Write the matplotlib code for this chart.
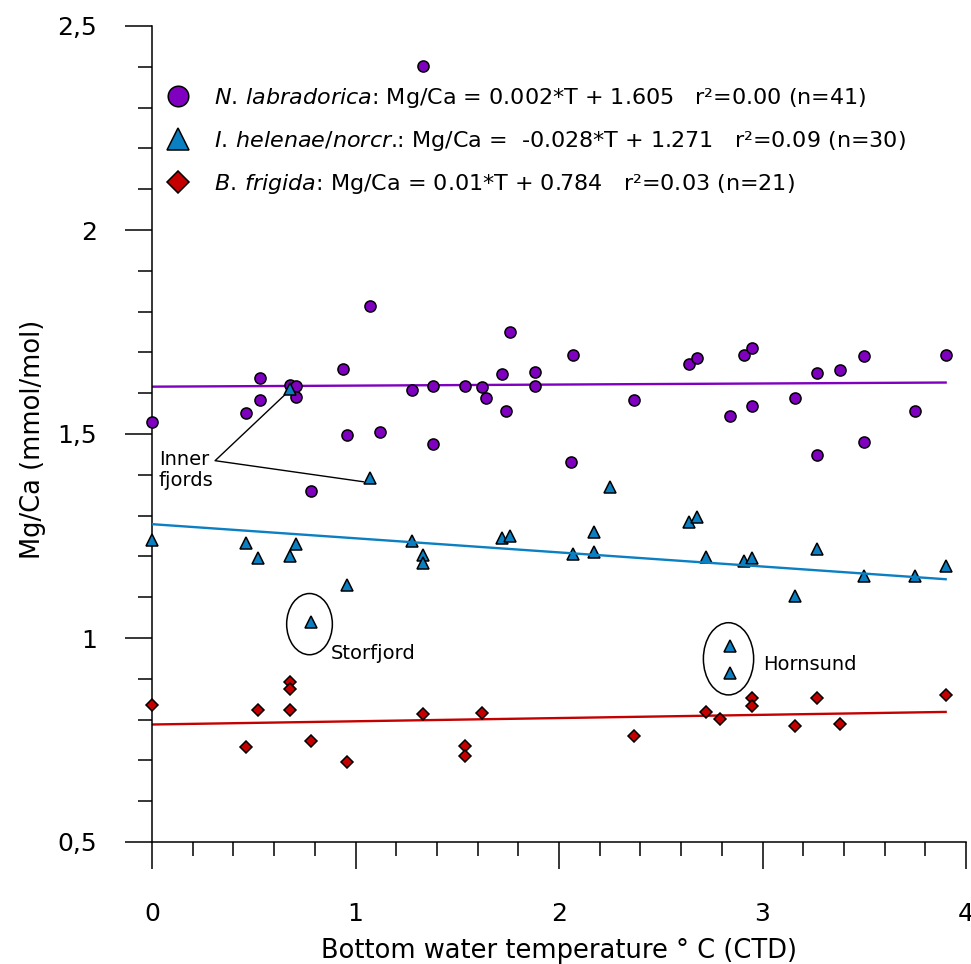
import numpy as np
import matplotlib.pyplot as plt
from matplotlib.patches import Ellipse
from matplotlib.ticker import MultipleLocator

# N. labradorica (circles)
nlab_t = [0.00, 0.46, 0.53, 0.53, 0.68, 0.71, 0.71, 0.78, 0.94, 0.96,
          1.07, 1.12, 1.28, 1.33, 1.38, 1.38, 1.54, 1.62, 1.64, 1.72,
          1.76, 1.74, 1.88, 1.88, 2.07, 2.06, 2.37, 2.64, 2.68, 2.84,
          2.91, 2.95, 2.95, 3.16, 3.27, 3.27, 3.38, 3.50, 3.50, 3.75,
          3.90]
nlab_mgca = [1.530, 1.551, 1.638, 1.583, 1.620, 1.618, 1.591, 1.360, 1.659, 1.498,
             1.814, 1.504, 1.607, 2.402, 1.618, 1.476, 1.618, 1.616, 1.588, 1.647,
             1.749, 1.557, 1.651, 1.618, 1.694, 1.431, 1.583, 1.672, 1.686, 1.543,
             1.693, 1.712, 1.569, 1.589, 1.649, 1.448, 1.658, 1.690, 1.480, 1.556,
             1.694]

# I. helenae / norcrossi (triangles)
ihel_t = [0.00, 0.46, 0.52, 0.68, 0.71, 0.96, 0.78, 1.28, 1.33, 1.33,
          1.72, 1.76, 0.68, 1.07, 2.07, 2.17, 2.17, 2.64, 2.68, 2.72,
          2.91, 2.95, 3.27, 3.16, 3.50, 3.75, 3.90, 2.84, 2.84, 2.25]
ihel_mgca = [1.240, 1.232, 1.197, 1.201, 1.230, 1.130, 1.039, 1.238, 1.203, 1.185,
             1.244, 1.251, 1.611, 1.391, 1.205, 1.259, 1.212, 1.285, 1.296, 1.199,
             1.189, 1.195, 1.217, 1.103, 1.152, 1.152, 1.177, 0.980, 0.913, 1.371]

# B. frigida (diamonds)
bfri_t = [0.00, 0.52, 0.68, 0.68, 0.68, 0.46, 0.78, 0.96, 1.33, 1.62,
          1.54, 1.54, 2.37, 2.72, 2.79, 2.95, 2.95, 3.16, 3.27, 3.38,
          3.90]
bfri_mgca = [0.836, 0.823, 0.891, 0.874, 0.823, 0.733, 0.747, 0.697, 0.814, 0.815,
             0.735, 0.710, 0.761, 0.819, 0.801, 0.852, 0.833, 0.784, 0.852, 0.789,
             0.860]

# regression lines as drawn (slope, intercept), over the temperature range
fit_t = [0.0, 3.9]
nlab_fit = (0.0026, 1.616)
ihel_fit = (-0.0346, 1.279)
bfri_fit = (0.0079, 0.788)

legend_labels = [
    r"$\mathit{N.\,labradorica}$: Mg/Ca = 0.002*T + 1.605   r²=0.00 (n=41)",
    r"$\mathit{I.\,helenae/norcr}$.: Mg/Ca =  -0.028*T + 1.271   r²=0.09 (n=30)",
    r"$\mathit{B.\,frigida}$: Mg/Ca = 0.01*T + 0.784   r²=0.03 (n=21)",
]
ytick_vals = [0.5, 1.0, 1.5, 2.0, 2.5]
ytick_labels = ["0,5", "1", "1,5", "2", "2,5"]
xtick_vals = [0, 1, 2, 3, 4]

purple = "#7f00bf"
blue = "#0a7fc2"
red = "#c40000"

fig = plt.figure(figsize=(9.71, 9.64), dpi=100)
ax = fig.add_axes([152 / 971, 1 - 842 / 964, 814 / 971, 816 / 964])

t_line = np.array(fit_t)
ax.plot(t_line, nlab_fit[0] * t_line + nlab_fit[1], color=purple, lw=1.7, zorder=2)
ax.plot(t_line, ihel_fit[0] * t_line + ihel_fit[1], color=blue, lw=1.7, zorder=4)
ax.plot(t_line, bfri_fit[0] * t_line + bfri_fit[1], color=red, lw=1.7, zorder=2)

h1, = ax.plot(nlab_t, nlab_mgca, "o", ms=8, mfc=purple, mec="black", mew=1.1,
              ls="none", zorder=3, clip_on=False)
h2, = ax.plot(ihel_t, ihel_mgca, "^", ms=8.5, mfc=blue, mec="black", mew=1.1,
              ls="none", zorder=3, clip_on=False)
h3, = ax.plot(bfri_t, bfri_mgca, "D", ms=6.2, mfc=red, mec="black", mew=1.1,
              ls="none", zorder=3, clip_on=False)

# annotations
ax.text(0.034, 1.412, "Inner\nfjords", fontsize=14, ha="left", va="center",
        linespacing=1.15)
ax.plot([0.678, 0.31, 1.038], [1.608, 1.4346, 1.383], color="black", lw=1.0, zorder=2)

ax.add_patch(Ellipse((0.774, 1.034), 0.2246, 0.150, fill=False, ec="black", lw=1.1))
ax.text(0.878, 0.963, "Storfjord", fontsize=14, ha="left", va="center")
ax.add_patch(Ellipse((2.833, 0.949), 0.247, 0.177, fill=False, ec="black", lw=1.1))
ax.text(3.004, 0.936, "Hornsund", fontsize=14, ha="left", va="center")

ax.set_xlim(0, 4)
ax.set_ylim(0.5, 2.5)
ax.set_xticks(xtick_vals)
ax.set_xticklabels([str(v) for v in xtick_vals])
ax.xaxis.set_minor_locator(MultipleLocator(0.2))
ax.set_yticks(ytick_vals)
ax.set_yticklabels(ytick_labels)
ax.yaxis.set_minor_locator(MultipleLocator(0.1))

ax.tick_params(axis="x", which="major", direction="out", length=19.5, width=1.1,
               pad=24, labelsize=18)
ax.tick_params(axis="x", which="minor", direction="out", length=10, width=1.1)
ax.tick_params(axis="y", which="major", direction="out", length=19.5, width=1.1,
               pad=20, labelsize=18)
ax.tick_params(axis="y", which="minor", direction="out", length=10, width=1.1)

for side in ["top", "right"]:
    ax.spines[side].set_visible(False)
for side in ["left", "bottom"]:
    ax.spines[side].set_linewidth(1.1)

ax.set_xlabel("Bottom water temperature ° C (CTD)", fontsize=18.5, labelpad=8)
ax.set_ylabel("Mg/Ca (mmol/mol)", fontsize=18.5)
ax.yaxis.set_label_coords(-0.130, 0.494)

ax.legend([h1, h2, h3], legend_labels, loc="upper left",
          bbox_to_anchor=(161 / 971, 1 - 86 / 964), bbox_transform=fig.transFigure,
          frameon=False, fontsize=16, markerscale=1.85, numpoints=1,
          handlelength=1.5, handletextpad=0.9, labelspacing=0.86, borderpad=0,
          borderaxespad=0)

fig.savefig("out.png", dpi=100)
